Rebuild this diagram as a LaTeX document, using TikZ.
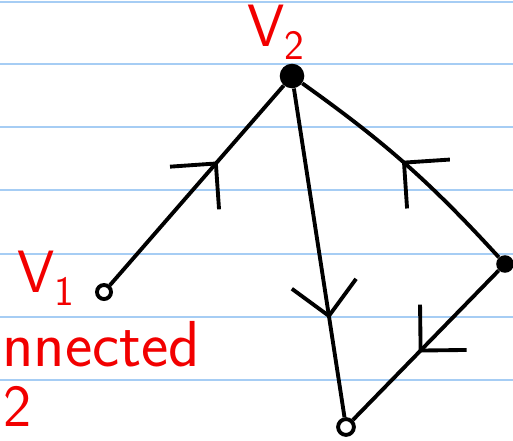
\documentclass[tikz,border=0pt]{standalone}
\usepackage{fontspec}
\usepackage{tikz}
\usetikzlibrary{arrows.meta,decorations.markings}
\definecolor{ruled}{HTML}{A6CDF4}
\definecolor{ink}{HTML}{000000}
\definecolor{pen}{HTML}{F20000}

\tikzset{
  vtx/.style={circle,fill=ink,inner sep=0pt,minimum size=#1},
  hollow/.style={circle,draw=ink,line width=2.2pt,inner sep=0pt,minimum size=#1},
  flow/.style={postaction={decorate},decoration={markings,
    mark=at position #1 with {\arrow{Straight Barb[length=6.5mm,width=13mm,line width=2.2pt]}}}},
  scrawl/.style={pen,inner sep=0pt,font=\sffamily\fontsize{34}{36}\selectfont},
  edge/.style={ink,line width=2.2pt}
}

\begin{document}
\begin{tikzpicture}[x=0.02cm,y=-0.02cm]
  \clip (0,0) rectangle (513,440);
  \fill[white] (0,0) rectangle (513,440);
  \foreach \yy in {2,64,127,190,254,317,380}
    \draw[ruled,line width=1.2pt] (0,\yy) -- (513,\yy);
  \node[vtx=14pt] (v2) at (292,76) {};
  \node[hollow=8pt] (v1) at (104,292) {};
  \node[vtx=10pt] (v3) at (505,264) {};
  \node[hollow=9pt] (v4) at (346,427) {};
  \draw[edge,flow=0.62] (v1) -- (v2);
  \draw[edge,flow=0.52] (v3) to[bend right=6] (v2);
  \draw[edge,flow=0.7] (v2) -- (v4);
  \draw[edge,flow=0.55] (v3) -- (v4);
  \node[scrawl] (v2lbl) at (276,32) {V\textsubscript{2}};
  \node[scrawl] (v1lbl) at (46,278) {V\textsubscript{1}};
  \node[scrawl,font=\sffamily\fontsize{37}{39}\selectfont,anchor=base west] (conn) at (2,366) {nnected};
  \node[scrawl] (sub) at (18,406) {2};
\end{tikzpicture}
\end{document}
